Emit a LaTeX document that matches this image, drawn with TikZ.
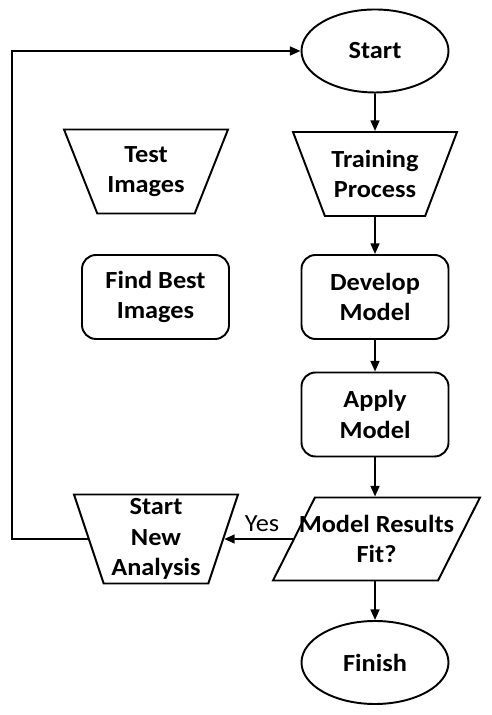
\documentclass[tikz,border=0pt]{standalone}
\usepackage{fontspec}
\setmainfont{Carlito}[FakeStretch = 1.07]
\usetikzlibrary{shapes.geometric,arrows.meta}

\begin{document}
\begin{tikzpicture}[
    line width = 1.1pt,
    txt/.style = {
      align = center,
      font = \fontsize{14}{17.5}\selectfont\bfseries
    },
    term/.style = {
      txt, draw, ellipse,
      minimum width = 2.94cm, minimum height = 1.66cm
    },
    proc/.style = {
      txt, draw, rounded corners = .28cm,
      minimum width = 2.94cm, minimum height = 1.68cm
    },
    trap/.style = {
      txt, draw, trapezium, shape border rotate = 180,
      trapezium angle = 62, trapezium stretches body, inner xsep = 1pt,
      minimum width = 3.28cm, minimum height = 1.68cm
    },
    io/.style = {
      txt, draw, trapezium,
      trapezium left angle = 55, trapezium right angle = 125,
      trapezium stretches body, inner xsep = -9.5pt,
      minimum width = 4.14cm, minimum height = 1.66cm
    },
    arr/.style = {-{Triangle[length = 6pt, width = 5pt]}}
  ]
  \useasboundingbox (0,0) rectangle (9.82,14.3);

  % The main column
  \node[term] (start)   at (7.50,13.28) {Start};
  \node[trap] (train)   at (7.50,10.82) {Training\\Process};
  \node[proc] (develop) at (7.50,8.36)  {Develop\\Model};
  \node[proc] (apply)   at (7.50,6.01)  {Apply\\Model};
  \node[io]   (fit)     at (7.53,3.52)  {Model Results\\Fit?};
  \node[term] (finish)  at (7.50,1.05)  {Finish};

  % The left column
  \node[trap] (test) at (2.92,10.87) {Test\\Images};
  \node[proc] (find) at (3.11,8.36)  {Find Best\\Images};
  \node[trap, trapezium angle = 70, inner ysep = 0pt, minimum height = 1.78cm]
    (new) at (3.12,3.52) {Start\\New\\Analysis};

  \coordinate (corner) at (0.24,13.28);

  % The arrows
  \draw[arr] (start)   -- (train);
  \draw[arr] (train)   -- (develop);
  \draw[arr] (develop) -- (apply);
  \draw[arr] (apply)   -- (apply |- fit.north);
  \draw[arr] (fit.south -| finish) -- (finish);
  \draw[arr] (fit.west) -- node[above, pos = .45, font = \fontsize{14}{16}\selectfont] (yes) {Yes} (new.east);
  \draw[arr] (new.west) -| (corner) -- (start.west);
\end{tikzpicture}
\end{document}
